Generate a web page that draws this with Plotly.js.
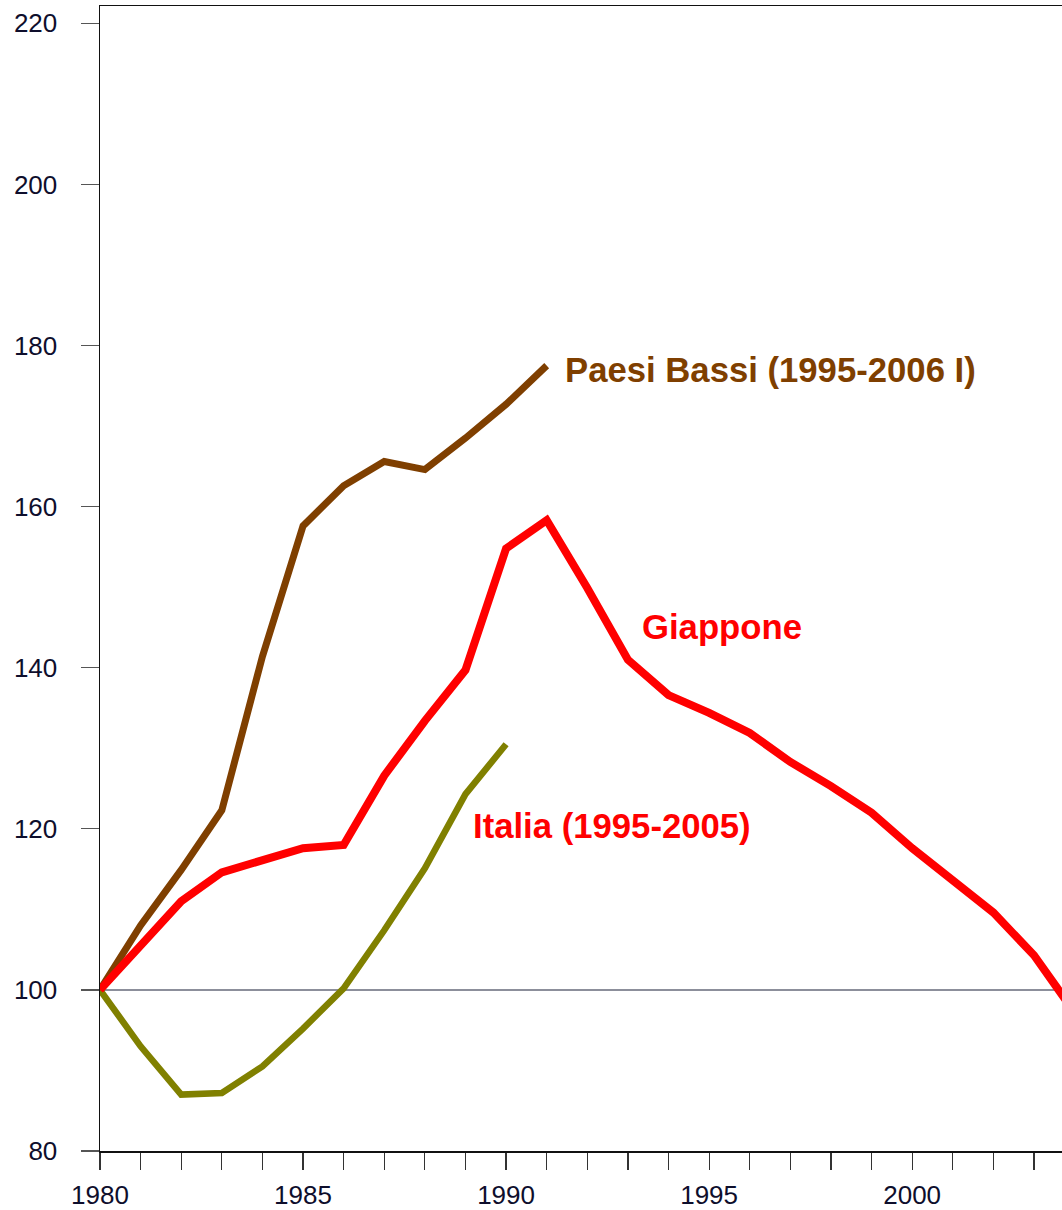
<!DOCTYPE html>
<html>
<head>
<meta charset="utf-8">
<script src="https://cdn.plot.ly/plotly-3.0.1.min.js"></script>
<style>html,body{margin:0;padding:0;background:#fff;}#chart{width:1062px;height:1210px;}</style>
</head>
<body>
<div id="chart"></div>
<script>
// Years
const yearsNL = [1980,1981,1982,1983,1984,1985,1986,1987,1988,1989,1990,1991];
const yearsJP = [1980,1981,1982,1983,1984,1985,1986,1987,1988,1989,1990,1991,1992,1993,1994,1995,1996,1997,1998,1999,2000,2001,2002,2003,2004];
const yearsIT = [1980,1981,1982,1983,1984,1985,1986,1987,1988,1989,1990];

// Index values (1980 = 100)
const paesiBassi = [100,108.0,114.9,122.3,141.4,157.6,162.6,165.6,164.6,168.5,172.7,177.5];
const giappone = [100,105.6,111.0,114.6,116.0,117.6,118.0,126.6,133.4,139.7,154.8,158.3,149.9,141.0,136.6,134.4,131.9,128.3,125.3,122.0,117.6,113.6,109.6,104.3,97.2];
const italia = [100,93.0,87.0,87.2,90.5,95.2,100.2,107.4,115.1,124.3,130.5];

// Labels
const labelNL = "Paesi Bassi (1995-2006 I)";
const labelJP = "Giappone";
const labelIT = "Italia (1995-2005)";

const FONT = "Liberation Sans, Arial, sans-serif";

const traces = [
  {x: yearsIT, y: italia, mode: "lines", line: {color: "#808000", width: 6.5}, name: "Italia"},
  {x: yearsNL, y: paesiBassi, mode: "lines", line: {color: "#7F3F00", width: 7}, name: "Paesi Bassi"},
  {x: yearsJP, y: giappone, mode: "lines", line: {color: "#FF0000", width: 8}, name: "Giappone"}
];

const layout = {
  width: 1062, height: 1210,
  margin: {l: 100, r: 0, t: 6, b: 59},
  paper_bgcolor: "#ffffff", plot_bgcolor: "#ffffff",
  showlegend: false,
  font: {family: FONT, size: 26, color: "#0e0e2c"},
  xaxis: {
    range: [1980, 2003.69],
    tickmode: "linear", tick0: 1980, dtick: 5,
    ticks: "outside", ticklen: 17, tickwidth: 1.2, tickcolor: "#333333",
    minor: {dtick: 1, tick0: 1980, ticks: "outside", ticklen: 17, tickwidth: 1.2, tickcolor: "#333333", showgrid: false},
    showgrid: false, zeroline: false,
    showline: true, linecolor: "#111111", linewidth: 1.5, mirror: true,
    ticklabelstandoff: 3,
    tickfont: {family: FONT, size: 26, color: "#0e0e2c"}
  },
  yaxis: {
    range: [80, 222.15],
    tickmode: "linear", tick0: 80, dtick: 20,
    ticks: "outside", ticklen: 18, tickwidth: 1.2, tickcolor: "#555555",
    showgrid: false, zeroline: false,
    showline: true, linecolor: "#111111", linewidth: 1.5,
    ticklabelstandoff: 18,
    tickfont: {family: FONT, size: 26, color: "#0e0e2c"}
  },
  shapes: [
    {type: "line", xref: "paper", x0: 0, x1: 1, yref: "y", y0: 100, y1: 100,
     line: {color: "#666a7a", width: 1.5}, layer: "below"}
  ],
  annotations: [
    {x: 1991.40, y: 177.0, xref: "x", yref: "y", text: "<b>" + labelNL + "</b>", showarrow: false,
     xanchor: "left", yanchor: "middle", font: {family: FONT, size: 34.7, color: "#7F3F00"}},
    {x: 1993.30, y: 145.0, xref: "x", yref: "y", text: "<b>" + labelJP + "</b>", showarrow: false,
     xanchor: "left", yanchor: "middle", font: {family: FONT, size: 34.7, color: "#FF0000"}},
    {x: 1989.14, y: 120.3, xref: "x", yref: "y", text: "<b>" + labelIT + "</b>", showarrow: false,
     xanchor: "left", yanchor: "middle", font: {family: FONT, size: 34.7, color: "#FF0000"}}
  ]
};

Plotly.newPlot("chart", traces, layout, {staticPlot: true, displayModeBar: false});
</script>
</body>
</html>
